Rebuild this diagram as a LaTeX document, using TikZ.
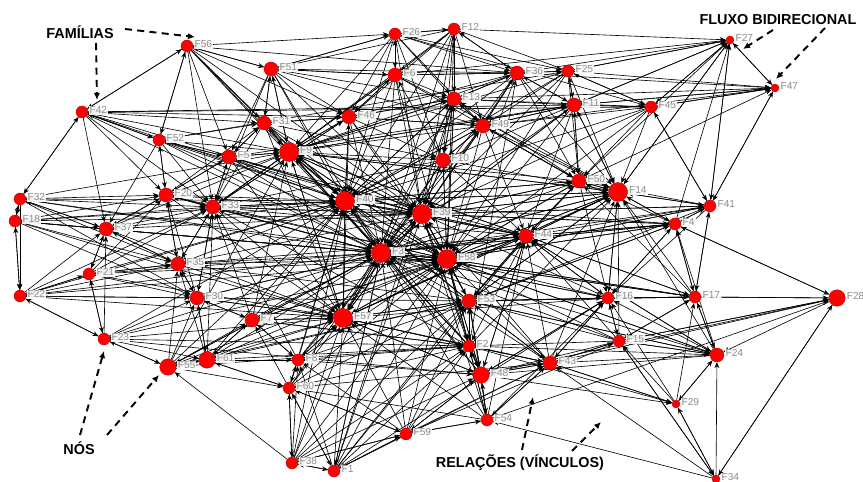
\documentclass[tikz,border=0pt]{standalone}
\usepackage{fontspec}
\setmainfont{Liberation Sans}
\usepackage{xcolor}
\usetikzlibrary{arrows.meta}
\definecolor{FamRed}{HTML}{FF0000}
\definecolor{FamRim}{HTML}{B00000}
\definecolor{LabGray}{HTML}{8C8C8C}
\pgfdeclarelayer{bg}
\pgfsetlayers{bg,main}
\tikzset{
  fam/.style={circle,fill=FamRed,draw=FamRim,line width=0.2pt,inner sep=0pt,label distance=0.6pt},
  famXS/.style={minimum size=0.16cm},
  famS/.style={minimum size=0.24cm},
  famM/.style={minimum size=0.28cm},
  famL/.style={minimum size=0.33cm},
  famXL/.style={minimum size=0.38cm},
  flab/.style={font=\fontsize{5.8}{6}\selectfont,text=LabGray,fill=white,fill opacity=0.92,text opacity=1,inner sep=0.6pt,yshift=1pt},
  link/.style={line width=0.35pt,-{Stealth[length=3.4pt,width=2.8pt]}},
  note/.style={line width=1.1pt,dash pattern=on 4pt off 3pt,-{Latex[length=4pt,width=3.6pt]}},
  tag/.style={font=\bfseries\fontsize{8.2}{9}\selectfont,inner sep=1pt}
}

\begin{document}
\begin{tikzpicture}[x=0.02cm,y=-0.02cm]
\path[use as bounding box] (0,0) rectangle (863,482);
% top band
\node[fam,famS,label={[flab]right:F56}] (F56) at (187,46) {};
\node[fam,famS,label={[flab]right:F26}] (F26) at (395,34) {};
\node[fam,famS,label={[flab]right:F12}] (F12) at (454,29) {};
\node[fam,famM,label={[flab]right:F51}] (F51) at (271,69) {};
\node[fam,famM,label={[flab]right:F6}] (F6) at (395,75) {};
\node[fam,famM,label={[flab]right:F36}] (F36) at (517,73) {};
\node[fam,famS,label={[flab]right:F25}] (F25) at (568,71) {};
\node[fam,famXS,label={[flab]right:F27}] (F27) at (730,40) {};
\node[fam,famXS,label={[flab]right:F47}] (F47) at (775,88) {};
\node[fam,famS,label={[flab]right:F42}] (F42) at (82,112) {};
\node[fam,famM,label={[flab]right:F11}] (F11) at (574,105) {};
\node[fam,famS,label={[flab]right:F45}] (F45) at (651,107) {};
\node[fam,famM,label={[flab]right:F13}] (F13) at (454,99) {};
\node[fam,famM,label={[flab]right:F46}] (F46) at (349,117) {};
\node[fam,famM,label={[flab]right:F31}] (F31) at (264,123) {};
\node[fam,famM,label={[flab]right:F49}] (F49) at (483,126) {};
\node[fam,famS,label={[flab]right:F52}] (F52) at (159,140) {};
\node[fam,famXL,label={[flab]right:F9}] (F9) at (289,152) {};
\node[fam,famM,label={[flab]right:F5}] (F5) at (229,157) {};
\node[fam,famM,label={[flab]right:F10}] (F10) at (443,160) {};
% middle band
\node[fam,famS,label={[flab]right:F32}] (F32) at (20,199) {};
\node[fam,famS,label={[flab]right:F18}] (F18) at (15,221) {};
\node[fam,famM,label={[flab]right:F20}] (F20) at (166,195) {};
\node[fam,famM,label={[flab]right:F33}] (F33) at (213,207) {};
\node[fam,famXL,label={[flab]right:F40}] (F40) at (345,201) {};
\node[fam,famXL,label={[flab]right:F39}] (F39) at (422,214) {};
\node[fam,famM,label={[flab]right:F50}] (F50) at (579,181) {};
\node[fam,famXL,label={[flab]right:F14}] (F14) at (618,192) {};
\node[fam,famS,label={[flab]right:F41}] (F41) at (710,206) {};
\node[fam,famS,label={[flab]right:F4}] (F4) at (675,224) {};
\node[fam,famM,label={[flab]right:F37}] (F37) at (106,229) {};
\node[fam,famM,label={[flab]right:F44}] (F44) at (526,236) {};
\node[fam,famXL,label={[flab]right:F3}] (F3) at (381,253) {};
\node[fam,famXL,label={[flab]right:F58}] (F58) at (447,259) {};
\node[fam,famM,label={[flab]right:F35}] (F35) at (178,264) {};
\node[fam,famS,label={[flab]right:F21}] (F21) at (89,274) {};
% lower band
\node[fam,famS,label={[flab]right:F22}] (F22) at (20,296) {};
\node[fam,famM,label={[flab]right:F30}] (F30) at (197,298) {};
\node[fam,famM,label={[flab]right:F53}] (F53) at (469,301) {};
\node[fam,famS,label={[flab]right:F16}] (F16) at (608,298) {};
\node[fam,famS,label={[flab]right:F17}] (F17) at (695,297) {};
\node[fam,famL,label={[flab]right:F28}] (F28) at (837,298) {};
\node[fam,famM,label={[flab]right:F7}] (F7) at (252,320) {};
\node[fam,famXL,label={[flab]right:F57}] (F57) at (343,318) {};
\node[fam,famS,label={[flab]right:F23}] (F23) at (104,339) {};
\node[fam,famS,label={[flab]right:F15}] (F15) at (619,341) {};
\node[fam,famS,label={[flab]right:F2}] (F2) at (469,346) {};
\node[fam,famM,label={[flab]right:F24}] (F24) at (717,355) {};
\node[fam,famL,label={[flab]right:F61}] (F61) at (207,360) {};
\node[fam,famS,label={[flab]right:F8}] (F8) at (298,360) {};
\node[fam,famM,label={[flab]right:F43}] (F43) at (550,363) {};
\node[fam,famL,label={[flab]right:F55}] (F55) at (168,367) {};
\node[fam,famL,label={[flab]right:F48}] (F48) at (481,375) {};
\node[fam,famS,label={[flab]right:F60}] (F60) at (289,388) {};
\node[fam,famXS,label={[flab]right:F29}] (F29) at (676,404) {};
\node[fam,famS,label={[flab]right:F54}] (F54) at (487,420) {};
\node[fam,famS,label={[flab]right:F59}] (F59) at (406,434) {};
\node[fam,famS,label={[flab]right:F38}] (F38) at (292,463) {};
\node[fam,famS,label={[flab]right:F1}] (F1) at (334,471) {};
\node[fam,famXS,label={[flab]right:F34}] (F34) at (716,479) {};
% ties
\begin{pgfonlayer}{bg}
% near ties
\foreach \s/\tl in {1/{38,60,57,3,59,8,58,53,43},2/{48,58,3,57,43,53,14,7},
  3/{58,40,57,39,44,30,9},4/{41,28,14,50,16,17,3,27},5/{9,31,33,40,20,52,3},
  6/{26,13,46,9,40,39,36,51,27},7/{57,30,3,61,8,9,40},8/{57,60,7,3,61,48,40},
  9/{40,3,31,5,39,46,57,51},10/{39,58,49,13,3,40,9},11/{25,36,45,47,27,14,50,49},
  12/{26,13,36,49,9,6,10,46,27},13/{49,12,39,10,58,9,36,11,47},14/{50,4,41,16,44,58,39,11,27},
  15/{16,43,24,17,14,2,34},16/{15,14,17,44,53,43,4},17/{28,16,24,4,41,15,14},
  18/{32,22,37,35,20,33,39},20/{33,37,9,35,5,52,40},21/{37,35,22,30,23,3},
  22/{18,23,37,21,30,57,53},23/{55,21,37,30,61,22,48},24/{17,29,15,43,14,4,16},
  25/{36,11,27,47,45,12,14},26/{6,12,51,36,13,46,25,45},27/{47,25,11,45,41,14},
  28/{17,4,24,34,15},29/{24,34,16,43,15,17},30/{35,7,61,3,57,33,20},
  31/{9,51,5,46,33,40},32/{18,37,42,20,33,22,40},33/{20,5,40,35,30,9,3},
  34/{29,24,28,43,54,15},35/{30,33,37,3,20,21,57},36/{25,12,13,11,49,6,39,50,27,47},
  37/{32,18,20,35,21,3,40},38/{1,60,59,55,8,57,48},39/{40,58,3,10,44,49,50,14},
  40/{9,3,39,33,46,57,58},41/{27,47,14,4,17,50,45},42/{56,52,32,20,37,46,11,45},
  43/{48,2,15,16,54,53,44},44/{58,39,50,14,3,53,16},45/{47,27,11,25,14,41},
  46/{9,6,40,31,13,39,49},47/{27,45,41,11},48/{2,54,53,43,58,57,59},
  49/{13,10,39,36,46,50,11,47},50/{14,11,44,39,16,49,47,27},51/{31,9,6,26,46,56,36,13},
  52/{42,56,20,5,33,9,31,25},53/{58,2,48,57,44,3,16},54/{48,2,59,43,53,60,58,28},
  55/{61,23,60,30,35,57,7,2},56/{42,52,51,31,5,9,26,36},57/{3,7,58,40,30,8,53},
  58/{3,39,53,44,57,2,10},59/{1,54,60,38,48,8,57,15},60/{8,38,1,61,57,7,59,43},
  61/{55,30,7,8,60,35,57}}
  {\foreach \t in \tl {\draw[link] (F\s) -- (F\t);}}
% far ties
\foreach \s/\tl in {1/{39,44,16,13,2},2/{40,33,9,61,36,24,29},3/{14,11,20,55,16,1,17,41,4},
  4/{58,39,40,53,44},5/{39,58,57,11,44},6/{3,58,14,33,50},7/{39,58,44,2,33},
  8/{39,58,53,2,33},9/{58,14,44,11,33,13},10/{57,44,14,33,6},11/{39,58,9,40,44,3},
  12/{40,3,58,39,51},13/{40,3,46,57,50},14/{3,40,9,53,57,13},15/{58,3,53,44,48,28},
  16/{58,3,39,57,48},17/{58,44,53,50,3},18/{3,40,57,58,30},20/{3,58,39,57,31},
  21/{40,57,58,33,20},22/{3,58,40,33,35},23/{3,57,58,40,2},24/{58,3,44,53,48},
  25/{39,58,9,40,50,49},26/{39,40,9,10,49},31/{3,39,58,57,10},32/{3,58,35,30,9},
  33/{58,39,57,44,46},35/{58,39,40,53,44},36/{40,9,3,58,46,14},37/{39,58,57,33,9},
  38/{3,58,40,53,2},39/{9,57,33,2,53,41,4},40/{44,14,13,49,50},41/{58,39,44,53,16},
  42/{9,40,3,33,39,31},43/{58,3,39,57,14,28,29},44/{40,57,9,2,48,24,17,4},
  45/{39,40,58,49,50,13},46/{3,58,57,33,10},48/{3,39,40,44,16,29,28},
  49/{9,40,3,58,44,14},50/{58,3,40,9,53},51/{40,3,39,49,33,5},52/{40,3,39,58,37},
  53/{39,40,9,14,43,24,17,4},54/{3,57,39,44,16},55/{3,58,40,53,9},56/{40,3,39,33,46},
  57/{39,44,9,2,48,14},58/{40,9,14,48,50,13,24,17,41,4},59/{3,58,53,2,43},
  60/{3,58,40,53,2},61/{3,58,40,33,53}}
  {\foreach \t in \tl {\draw[link] (F\s) -- (F\t);}}
\end{pgfonlayer}
% callouts
\node[tag] (famtag) at (80,32) {FAMÍLIAS};
\coordinate (famA0) at (125,29);
\coordinate (famA) at (195,37);
\coordinate (famB0) at (96,43);
\coordinate (famB) at (97,100);
\draw[note] (famA0) -- (famA);
\draw[note] (famB0) -- (famB);
\node[tag] (fluxtag) at (778,20) {FLUXO BIDIRECIONAL};
\coordinate (fluxA0) at (773,30);
\coordinate (fluxA) at (743,49);
\coordinate (fluxB0) at (825,28);
\coordinate (fluxB) at (776,79);
\draw[note] (fluxA0) -- (fluxA);
\draw[note] (fluxB0) -- (fluxB);
\node[tag] (nostag) at (79,448) {NÓS};
\coordinate (nosA0) at (80,435);
\coordinate (nosA) at (104,351);
\coordinate (nosB0) at (107,435);
\coordinate (nosB) at (159,375);
\draw[note] (nosA0) -- (nosA);
\draw[note] (nosB0) -- (nosB);
\node[tag] (reltag) at (520,463) {RELAÇÕES (VÍNCULOS)};
\coordinate (relA0) at (522,450);
\coordinate (relA) at (533,397);
\coordinate (relB0) at (572,451);
\coordinate (relB) at (601,422);
\draw[note] (relA0) -- (relA);
\draw[note] (relB0) -- (relB);
\end{tikzpicture}
\end{document}
